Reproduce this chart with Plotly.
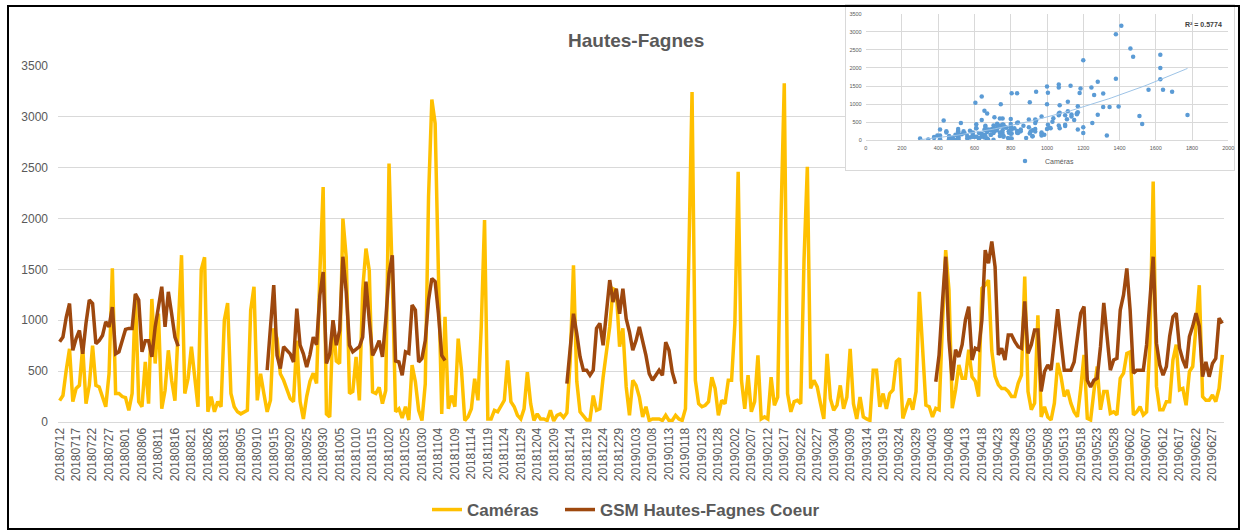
import numpy as np
import pandas as pd
import plotly.graph_objects as go

# ---------------- data ----------------
START_DATE = "2018-07-12"
TITLE = "Hautes-Fagnes"
NAME_CAM = "Caméras"
NAME_GSM = "GSM Hautes-Fagnes Coeur"
R2_LABEL = "R² = 0.5774"

cameras = [
    210, 260, 510, 720, 200, 330, 360, 740, 180, 360,
    750, 360, 345, 250, 150, 475, 1510, 280, 280, 250,
    240, 115, 280, 1250, 200, 150, 590, 180, 1210, 575,
    1065, 130, 310, 705, 410, 210, 1000, 1640, 280, 430,
    740, 410, 150, 1500, 1620, 100, 250, 100, 200, 150,
    1000, 1170, 280, 150, 100, 80, 100, 115, 1100, 1330,
    213, 475, 280, 100, 213, 920, 820, 475, 410, 310,
    230, 200, 800, 200, 30, 250, 400, 480, 380, 1460,
    2310, 80, 50, 1000, 600, 575, 2000, 1620, 280, 300,
    640, 213, 1300, 1705, 1490, 295, 280, 340, 180, 310,
    2540, 1400, 100, 130, 40, 150, 20, 560, 395, 115,
    15, 375, 2215, 3170, 2935, 1460, 80, 1035, 130, 260,
    150, 820, 510, 15, 50, 130, 425, 213, 935, 1985,
    30, 30, 115, 100, 150, 213, 605, 200, 150, 65,
    30, 130, 490, 180, 15, 80, 30, 30, 15, 115,
    10, 66, 80, 45, 90, 600, 1540, 400, 100, 60,
    20, 20, 260, 115, 130, 440, 690, 935, 1310, 1295,
    740, 920, 345, 66, 410, 360, 245, 50, 150, 15,
    30, 30, 30, 15, 66, 15, 15, 66, 30, 15,
    130, 1590, 3245, 410, 180, 150, 165, 200, 440, 330,
    66, 213, 180, 410, 410, 970, 2460, 410, 130, 460,
    100, 200, 655, 30, 50, 30, 440, 165, 245, 2000,
    3330, 280, 100, 200, 213, 180, 1600, 2510, 330, 410,
    345, 180, 30, 670, 230, 115, 165, 360, 130, 245,
    720, 180, 30, 245, 50, 30, 15, 510, 510, 150,
    280, 130, 280, 315, 595, 625, 36, 135, 230, 120,
    300, 1280, 640, 165, 150, 50, 135, 120, 940, 1690,
    1300, 135, 315, 560, 430, 430, 710, 445, 400, 250,
    1315, 1345, 1395, 700, 450, 365, 330, 330, 300, 250,
    250, 380, 460, 1430, 300, 120, 185, 1050, 50, 150,
    50, 20, 185, 580, 450, 250, 315, 185, 100, 50,
    330, 660, 36, 20, 300, 545, 120, 300, 300, 85,
    100, 70, 430, 480, 675, 690, 70, 100, 150, 70,
    100, 775, 2365, 350, 120, 120, 200, 200, 610, 760,
    315, 330, 165, 495, 545, 970, 1345, 250, 215, 215,
    265, 200, 330, 660,
]

gsm_summer = [
    790, 835, 1030, 1165, 705, 820, 900, 670, 970, 1200,
    1165, 770, 800, 850, 985, 935, 1130, 670, 690, 790,
    910, 920, 920, 1260, 1200, 690, 800, 800, 640, 935,
    1115, 1330, 935, 1280, 1065, 835, 745,
]
gap_1 = 26
gsm_autumn = [
    510, 970, 1345, 655, 525, 740, 700,
    670, 590, 1115, 755, 670, 540, 660, 835, 760, 1245,
    1475, 575, 670, 1000, 755, 900, 1625, 1280, 755, 690,
    710, 740, 835, 1380, 1000, 655, 720, 800, 640, 1000,
    1460, 1640, 600, 590, 460, 690, 675, 1150, 1100, 590,
    625, 800, 1200, 1410, 1380, 1065, 655, 605,
]
gap_2 = 36
gsm_winter = [
    377, 740, 1065, 870, 640, 510,
    510, 460, 510, 920, 970, 755, 1065, 1395, 1180, 1310,
    1065, 1310, 1015, 885, 705, 800, 935, 800, 655, 475,
    410, 460, 510, 460, 785, 705, 490, 377,
]
gap_3 = 78
gsm_spring = [
    395, 660, 1170, 1625,
    805, 410, 710, 640, 760, 1005, 1135, 610, 725, 710,
    1005, 1690, 1560, 1775, 1525, 660, 725, 610, 855, 855,
    790, 740, 725, 1185, 675, 760, 905, 905, 300, 495,
    560, 510, 805, 1110, 800, 510, 510, 510, 590, 805,
    1070, 1135, 410, 345, 410, 430, 740, 1170, 805, 510,
    610, 625, 1100, 1250, 1510, 1100, 480, 510, 510, 510,
    760, 1170, 1625, 775, 560, 460, 545, 840, 1035, 1070,
    725, 610, 530, 840, 940, 1070, 940, 445, 590, 445,
    575, 625, 1020, 970,
]

gsm = (gsm_summer + [None] * gap_1 + gsm_autumn + [None] * gap_2
       + gsm_winter + [None] * gap_3 + gsm_spring)

dates = pd.date_range(START_DATE, periods=len(cameras), freq="D").strftime("%Y%m%d").tolist()
tick_labels = dates[::5]
y_ticks = list(range(0, 3501, 500))
inset_x_ticks = list(range(0, 2001, 200))

# scatter pairs (GSM vs Caméras on days where both exist)
pair_x = [g for g, c in zip(gsm, cameras) if g is not None]
pair_y = [c for g, c in zip(gsm, cameras) if g is not None]
coef = np.polyfit(pair_x, pair_y, 2)
trend_x = np.linspace(min(pair_x), max(pair_x), 120)
trend_y = np.polyval(coef, trend_x)

# ---------------- layout geometry (pixels) ----------------
W, H = 1243, 532
ML, MR, MT, MB = 58, 7, 5, 110
PW = W - ML - MR
PH = H - MT - MB


def px(xp):
    return (xp - ML) / PW


def py(yp):
    return (H - MB - yp) / PH


GREY = "#595959"
GRID = "#D9D9D9"
FONT = "Liberation Sans"
LEGEND_FONT = dict(size=17, color=GREY, family=FONT, weight="bold")

fig = go.Figure()

fig.add_trace(go.Scatter(
    x=dates, y=cameras, mode="lines", name=NAME_CAM,
    line=dict(color="#FFC000", width=3.5), xaxis="x", yaxis="y",
    legend="legend", hoverinfo="skip"))
fig.add_trace(go.Scatter(
    x=dates, y=gsm, mode="lines", name=NAME_GSM, connectgaps=False,
    line=dict(color="#9E480E", width=3.5), xaxis="x", yaxis="y",
    legend="legend3", hoverinfo="skip"))

# inset frame subplot (white box)
fig.add_trace(go.Scatter(x=[None], y=[None], xaxis="x2", yaxis="y2",
                         showlegend=False, hoverinfo="skip"))

# inset scatter
fig.add_trace(go.Scatter(
    x=pair_x, y=pair_y, mode="markers", name=NAME_CAM,
    marker=dict(color="#5B9BD5", size=4.5),
    xaxis="x3", yaxis="y3", legend="legend2", hoverinfo="skip"))
fig.add_trace(go.Scatter(
    x=trend_x, y=trend_y, mode="lines", showlegend=False,
    line=dict(color="#9DC3E6", width=1),
    xaxis="x3", yaxis="y3", hoverinfo="skip"))

fig.update_layout(
    width=W, height=H,
    margin=dict(l=ML, r=MR, t=MT, b=MB, autoexpand=False),
    paper_bgcolor="white", plot_bgcolor="white",
    font=dict(family=FONT, color=GREY),
    showlegend=True,
    xaxis=dict(
        type="category", domain=[0, px(1224)], range=[-0.5, len(dates) - 0.5],
        tickmode="array", tickvals=tick_labels, ticktext=tick_labels,
        tickangle=-90, tickfont=dict(size=12, color=GREY, family=FONT),
        showgrid=False, zeroline=False, showline=True, linecolor=GRID,
        ticks="", anchor="y", fixedrange=True),
    yaxis=dict(
        domain=[0, py(66)], range=[0, 3500], tickvals=y_ticks,
        tickfont=dict(size=12, color=GREY, family=FONT),
        showgrid=True, gridcolor=GRID, gridwidth=1, zeroline=False,
        showline=False, ticks="", ticklabelstandoff=9, anchor="x", fixedrange=True),
    xaxis2=dict(domain=[px(846), px(1234)], range=[0, 1], showgrid=False,
                zeroline=False, showticklabels=False, ticks="",
                showline=True, mirror=True, linecolor=GRID, linewidth=1,
                anchor="y2", fixedrange=True),
    yaxis2=dict(domain=[py(170), 1.0], range=[0, 1], showgrid=False,
                zeroline=False, showticklabels=False, ticks="",
                showline=True, mirror=True, linecolor=GRID, linewidth=1,
                anchor="x2", fixedrange=True),
    xaxis3=dict(domain=[px(865.7), px(1228.3)], range=[0, 2000],
                tickvals=inset_x_ticks, tickfont=dict(size=5.5, color=GREY),
                showgrid=True, gridcolor=GRID, gridwidth=1, zeroline=False,
                showline=True, linecolor=GRID, ticks="", ticklabelstandoff=2,
                anchor="y3", fixedrange=True),
    yaxis3=dict(domain=[py(140.3), py(13.7)], range=[0, 3500],
                tickvals=y_ticks, tickfont=dict(size=5.5, color=GREY),
                showgrid=True, gridcolor=GRID, gridwidth=1, zeroline=False,
                showline=False, ticks="", ticklabelstandoff=3,
                anchor="x3", fixedrange=True),
    legend=dict(
        orientation="h", x=px(427), xanchor="left", y=py(510), yanchor="middle",
        font=LEGEND_FONT, bgcolor="rgba(0,0,0,0)", itemwidth=30),
    legend3=dict(
        orientation="h", x=px(560), xanchor="left", y=py(510), yanchor="middle",
        font=LEGEND_FONT, bgcolor="rgba(0,0,0,0)", itemwidth=30),
    legend2=dict(
        orientation="h", x=px(1042), xanchor="center", y=py(161), yanchor="middle",
        font=dict(size=7, color=GREY, family=FONT),
        bgcolor="rgba(0,0,0,0)", itemwidth=30),
    annotations=[
        dict(text=TITLE, x=px(636), y=py(40), xref="paper", yref="paper",
             showarrow=False, xanchor="center", yanchor="middle",
             font=dict(size=19, color=GREY, family=FONT, weight="bold")),
        dict(text=R2_LABEL, x=px(1203), y=py(24), xref="paper", yref="paper",
             showarrow=False, xanchor="center", yanchor="middle",
             font=dict(size=7, color="#404040", family=FONT, weight="bold")),
    ],
    shapes=[
        dict(type="rect", xref="paper", yref="paper",
             x0=px(8), x1=px(1239), y0=py(529), y1=py(6),
             line=dict(color="black", width=2), fillcolor="rgba(0,0,0,0)",
             layer="above"),
    ],
)

fig.write_html("out.html", config={"staticPlot": True},
               post_script="document.body.style.margin='0';document.body.style.overflow='hidden';")
